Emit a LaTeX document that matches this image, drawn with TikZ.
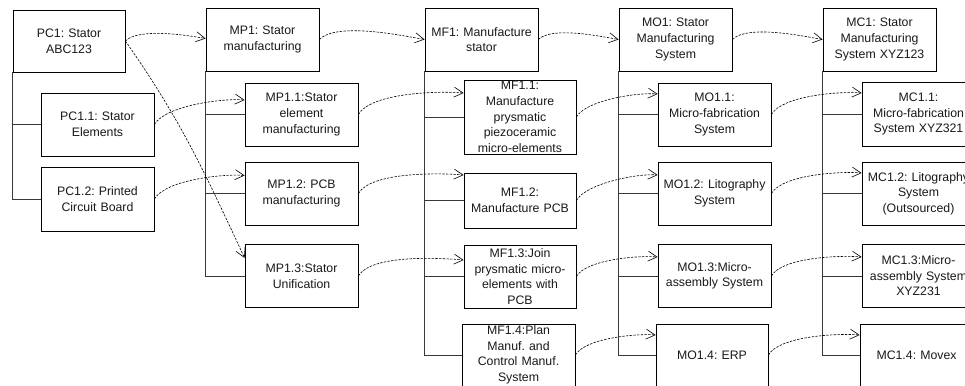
\documentclass[tikz,border=0pt]{standalone}
\usepackage{fontspec}
\setmainfont{Liberation Sans}
\usetikzlibrary{arrows.meta}

\begin{document}
\begin{tikzpicture}[
  x=1pt, y=-1pt,
  box/.style={draw=black, fill=white, line width=0.8pt, inner sep=0pt,
    minimum width=113pt, minimum height=63pt, text width=112pt, align=center,
    text=black!90, font=\fontsize{12.3}{15.6}\selectfont\frenchspacing},
  tree/.style={draw=black!78, line width=0.9pt},
  link/.style={draw=black, line width=0.6pt, dash pattern=on 2.4pt off 1.3pt,
    -{Straight Barb[length=9pt,width=10pt,line width=0.6pt]}},
  flat/.style={link, out=45, in=170, looseness=0.6},
  rise/.style={link, out=60, in=175, looseness=0.6}
]
\useasboundingbox (0,0) rectangle (965,385);
\clip (0,0) rectangle (965,385);

% product column
\node[box, minimum width=112pt, minimum height=62pt] (PC1) at (69,41) {PC1: Stator\\ABC123};
\node[box] (PC11) at (97.5,124.5) {PC1.1: Stator\\Elements};
\node[box, minimum height=64pt] (PC12) at (97.5,199) {PC1.2: Printed\\Circuit Board};

% process column
\node[box] (MP1)  at (262.5,39.5) {MP1: Stator\\manufacturing};
\node[box] (MP11) at (301.5,114.5) {MP1.1:Stator\\element\\manufacturing};
\node[box] (MP12) at (301.5,193.5) {MP1.2: PCB\\manufacturing};
\node[box] (MP13) at (301.5,276) {MP1.3:Stator\\Unification};

% function column
\node[box] (MF1)  at (481.5,39.5) {MF1: Manufacture\\stator};
\node[box, minimum width=112pt, minimum height=74pt] (MF11) at (520,117)
  {MF1.1:\\Manufacture\\prysmatic\\piezoceramic\\micro-elements};
\node[box, minimum width=112pt, minimum height=55pt] (MF12) at (520,200.5) {MF1.2:\\Manufacture PCB};
\node[box, minimum width=112pt] (MF13) at (520,276.5) {MF1.3:Join\\prysmatic micro-\\elements with\\PCB};
\node[box, minimum height=62pt] (MF14) at (518.5,355) {MF1.4:Plan\\Manuf. and\\Control Manuf.\\System};

% organisation column
\node[box] (MO1)  at (675.5,39.5) {MO1: Stator\\Manufacturing\\System};
\node[box] (MO11) at (714.5,114.5) {MO1.1:\\Micro-fabrication\\System};
\node[box] (MO12) at (714.5,193.5) {MO1.2: Litography\\System};
\node[box] (MO13) at (714.5,276) {MO1.3:Micro-\\assembly System};
\node[box, minimum width=112pt, minimum height=62pt] (MO14) at (712,355) {MO1.4: ERP};

% component column
\node[box] (MC1)  at (879.5,39.5) {MC1: Stator\\Manufacturing\\System XYZ123};
\node[box, minimum height=64pt] (MC11) at (918.5,114) {MC1.1:\\Micro-fabrication\\System XYZ321};
\node[box] (MC12) at (918.5,193.5) {MC1.2: Litography\\System\\(Outsourced)};
\node[box] (MC13) at (918.5,276) {MC1.3:Micro-\\assembly System\\XYZ231};
\node[box, minimum height=62pt] (MC14) at (916.5,355) {MC1.4: Movex};

% decomposition trees
\foreach \p/\c in {PC1/PC11, PC1/PC12,
                   MP1/MP11, MP1/MP12, MP1/MP13,
                   MF1/MF11, MF1/MF12, MF1/MF13, MF1/MF14,
                   MO1/MO11, MO1/MO12, MO1/MO13, MO1/MO14,
                   MC1/MC11, MC1/MC12, MC1/MC13, MC1/MC14}
  \draw[tree] (\p.south west) |- (\c.west);

% mappings between columns
\draw[flat] (PC1.east) to ([yshift=1pt]MP1.west);
\draw[link, out=-55, in=115] (PC1.east) to ([yshift=18pt]MP13.west);
\draw[rise] (PC11.east) to ([yshift=14.5pt]MP11.west);
\draw[rise] (PC12.east) to ([yshift=18pt]MP12.west);

\draw[flat] (MP1.east) to (MF1.west);
\draw[rise] (MP11.east) to ([yshift=24pt]MF11.west);
\draw[rise] (MP12.east) to ([yshift=25.5pt]MF12.west);
\draw[rise] (MP13.east) to ([yshift=16.5pt]MF13.west);

\draw[flat] (MF1.east) to (MO1.west);
\draw[rise] (MF11.east) to ([yshift=20.5pt]MO11.west);
\draw[rise] (MF12.east) to ([yshift=18.5pt]MO12.west);
\draw[rise] (MF13.east) to ([yshift=19pt]MO13.west);
\draw[rise] (MF14.east) to ([yshift=20pt]MO14.west);

\draw[flat] (MO1.east) to (MC1.west);
\draw[rise] (MO11.east) to ([yshift=21pt]MC11.west);
\draw[rise] (MO12.east) to ([yshift=20.5pt]MC12.west);
\draw[rise] (MO13.east) to ([yshift=19pt]MC13.west);
\draw[rise] (MO14.east) to ([yshift=20pt]MC14.west);
\end{tikzpicture}
\end{document}
